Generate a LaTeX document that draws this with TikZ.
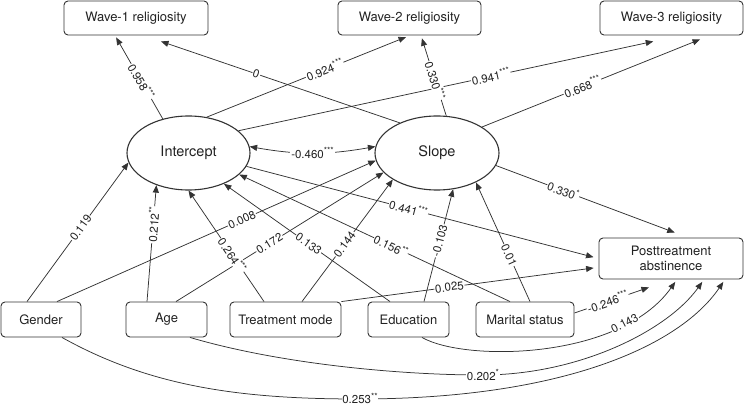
\documentclass[tikz,border=0pt]{standalone}
\usepackage{fontspec}
\setmainfont{TeX Gyre Heros}
\usetikzlibrary{arrows.meta,shapes.geometric}
\pgfdeclarelayer{fg}
\pgfsetlayers{main,fg}
\definecolor{lc}{HTML}{333333}
\definecolor{tc}{HTML}{222222}
\newcommand\sigst[1]{\raisebox{0.38em}{\fontsize{8.5}{9}\selectfont #1}}
\newcommand\lconn[5][]{%
  \draw[conn,#1] (#2) -- (#3);
  \begin{pgfonlayer}{fg}\path (#2) -- node[lab,sloped,pos=#4]{#5} (#3);\end{pgfonlayer}}
\begin{document}
\begin{tikzpicture}[x=1pt,y=1pt,
  line/.style={draw=lc, line width=0.75pt},
  conn/.style={line, -{Triangle[length=7.5pt,width=6pt]}},
  box/.style={draw=lc, line width=0.9pt, rounded corners=4pt, text=tc, font=\fontsize{13}{15}\selectfont, inner sep=0pt},
  ell/.style={ellipse, draw=lc, line width=1.1pt, text=tc, font=\fontsize{14.5}{17}\selectfont, inner sep=0pt},
  lab/.style={fill=white, inner sep=0.8pt, text=tc, font=\fontsize{11.5}{12}\selectfont}]
\useasboundingbox (0,0) rectangle (744,-406);
% nodes
\node[box, minimum width=144pt, minimum height=34pt] (w1) at (136,-18) {Wave-1 religiosity};
\node[box, minimum width=143pt, minimum height=34pt] (w2) at (409.5,-18) {Wave-2 religiosity};
\node[box, minimum width=143pt, minimum height=34pt] (w3) at (671.5,-18) {Wave-3 religiosity};
\node[ell, minimum width=123pt, minimum height=74pt] (int) at (188.5,-153) {Intercept};
\node[ell, minimum width=124pt, minimum height=74pt] (slope) at (437,-153) {Slope};
\node[box, minimum width=144pt, minimum height=41pt, align=center] (post) at (671,-258.5) {Posttreatment\\abstinence};
\node[box, minimum width=80pt, minimum height=35pt] (gender) at (41,-319.5) {Gender};
\node[box, minimum width=81pt, minimum height=35pt] (age) at (166.5,-319.5) {Age};
\node[box, minimum width=111pt, minimum height=35pt] (treat) at (285.5,-319.5) {Treatment mode};
\node[box, minimum width=81pt, minimum height=35pt] (edu) at (408.5,-319.5) {Education};
\node[box, minimum width=98pt, minimum height=35pt] (mar) at (525,-319.5) {Marital status};
% loadings
\lconn[shorten >=2.3pt]{int.127}{[xshift=-21pt]w1.south}{0.45}{0.958\sigst{***}}
\lconn[shorten >=18.5pt]{slope.141}{[xshift=7.5pt]w1.south}{0.56}{0}
\lconn[shorten >=4.3pt]{int.63}{[xshift=0.5pt]w2.south}{0.58}{0.924\sigst{***}}
\lconn[shorten >=3pt]{slope.76}{[xshift=11.5pt]w2.south}{0.44}{0.330\sigst{***}}
\lconn[shorten >=28.4pt]{int.24}{[xshift=9.5pt]w3.south}{0.57}{0.941\sigst{***}}
\lconn[shorten >=10.7pt]{slope.30}{[xshift=38.5pt]w3.south}{0.44}{0.668\sigst{***}}
% covariance
\draw[line, {Triangle[length=7.5pt,width=6pt]}-{Triangle[length=7.5pt,width=6pt]}] (int.6) to[bend right=10] (slope.174);
\begin{pgfonlayer}{fg}\path (int.6) to[bend right=10] node[lab]{-0.460\sigst{***}} (slope.174);\end{pgfonlayer}
% outcome
\lconn[shorten >=14.2pt]{slope.-12}{[xshift=17pt]post.north}{0.35}{0.330\sigst{*}}
\lconn[shorten >=5.2pt]{int.-13}{post.west}{0.46}{0.441\sigst{***}}
\lconn[shorten >=5pt]{treat.north east}{[yshift=-8.8pt]post.west}{0.42}{0.025}
\lconn[shorten >=24.4pt]{[yshift=6.5pt]mar.east}{[xshift=1pt]post.south}{0.34}{-0.246\sigst{***}}
% covariates
\lconn{[xshift=-14pt]gender.north}{int.-171}{0.53}{0.119}
\lconn{[xshift=16pt]gender.north}{slope.-173}{0.58}{0.008}
\lconn{[xshift=-19.5pt]age.north}{int.-135}{0.66}{0.212\sigst{**}}
\lconn{[xshift=9.5pt]age.north}{slope.-160}{0.45}{0.172}
\lconn{[xshift=-21.5pt]treat.north}{int.-90}{0.42}{0.264\sigst{***}}
\lconn{[xshift=16.5pt]treat.north}{slope.-149}{0.47}{0.144}
\lconn{[xshift=-18.5pt]edu.north}{int.-41.5}{0.49}{0.133}
\lconn{[xshift=15.5pt]edu.north}{slope.-66}{0.54}{-0.103}
\lconn{[xshift=-15pt]mar.north}{int.-23}{0.44}{0.156\sigst{**}}
\lconn{[xshift=5pt]mar.north}{slope.-37}{0.39}{0.01}
% curved paths
\draw[conn, shorten >=3pt] ([xshift=13.5pt]edu.south) .. controls (465,-362) and (620,-360) .. ([xshift=6pt]post.south);
\draw[conn, shorten >=3pt] ([xshift=23.5pt]age.south) .. controls (280,-364) and (400,-375) .. (482,-375) .. controls (580,-375) and (668,-330) .. ([xshift=33pt]post.south);
\draw[conn, shorten >=3pt] ([xshift=21pt]gender.south) .. controls (149,-386) and (238,-399) .. (358,-399) .. controls (560,-399) and (679,-347) .. ([xshift=54pt]post.south);
\begin{pgfonlayer}{fg}
\path ([xshift=13.5pt]edu.south) .. controls (465,-362) and (620,-360) .. node[lab,sloped,pos=0.77]{0.143} ([xshift=6pt]post.south);
\node[lab] (l202) at (483,-375) {0.202\sigst{*}};
\node[lab] (l253) at (360,-398.5) {0.253\sigst{**}};
\end{pgfonlayer}
\end{tikzpicture}
\end{document}
